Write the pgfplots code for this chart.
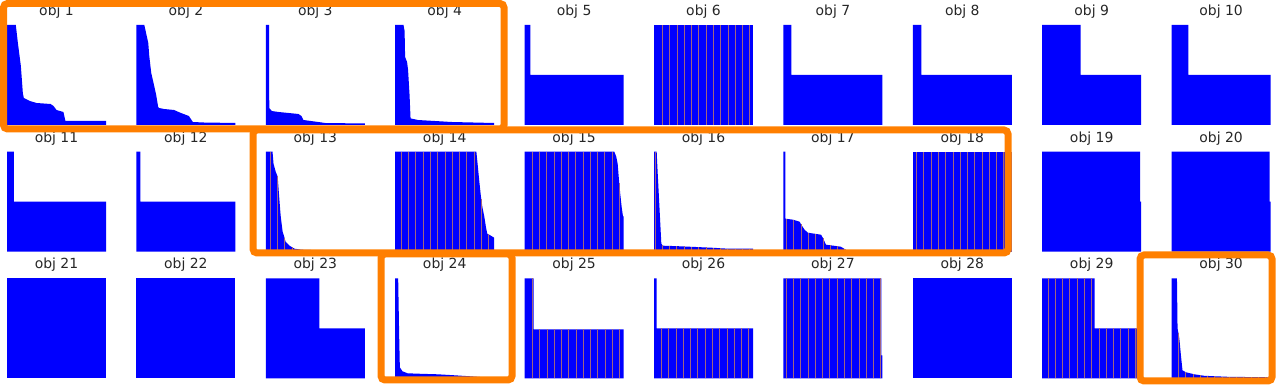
\documentclass[border=0pt]{standalone}
\usepackage{fontspec}
\setmainfont{DejaVu Sans}
\usepackage{pgfplots}
\pgfplotsset{compat=1.18}
\definecolor{frame}{RGB}{255,127,0}
\definecolor{edge}{RGB}{160,100,125}
\definecolor{txt}{RGB}{38,38,38}
\pgfplotsset{
  every axis title/.style={at={(0.5,1)}, anchor=base, yshift=9.5bp, inner sep=0pt,
      font=\fontsize{14}{15}\selectfont, text=txt},
  obj/.style={anchor=south west, width=99bp, height=100bp, scale only axis,
    hide axis, xmin=0, xmax=100, ymin=0, ymax=100, clip=false},
  bars/.style={fill=blue, draw=none},
  edges/.style={ycomb, draw=edge, line width=0.45bp},
}
\begin{document}
\begin{tikzpicture}
% ---- row 1
\begin{axis}[obj, at={(7bp,260bp)}, title={obj 1}]
\addplot[bars] coordinates {(0,100)(8.9,100)(11,82)(14,59)(16,32)(17,27)(23,24)(30,22)(44,21)(47,19)(50,15)(57,13)(59,4)(100,4)} \closedcycle;
\end{axis}
\begin{axis}[obj, at={(136.4bp,260bp)}, title={obj 2}]
\addplot[bars] coordinates {(0,100)(8,100)(12,82)(13,69)(15,52)(18,39)(20,30)(22,18)(23,17)(28,16)(38,15)(45,12)(53,9)(57,3)(68,2.5)(100,2)} \closedcycle;
\end{axis}
\begin{axis}[obj, at={(265.8bp,260bp)}, title={obj 3}]
\addplot[bars] coordinates {(0,100)(3.3,100)(3.5,17)(6,14)(13,13)(23,12)(33,11)(36,9)(38,5)(53,3)(60,2)(100,1.5)} \closedcycle;
\end{axis}
\begin{axis}[obj, at={(395.2bp,260bp)}, title={obj 4}]
\addplot[bars] coordinates {(0,100)(8.4,100)(9.5,94)(10,68)(12,63)(13,55)(14.5,30)(15.5,6.6)(23,5)(40,4)(57,3)(100,2)} \closedcycle;
\end{axis}
\begin{axis}[obj, at={(524.6bp,260bp)}, title={obj 5}]
\addplot[bars] coordinates {(0,100)(5.7,100)(5.7,50)(100,50)} \closedcycle;
\end{axis}
\begin{axis}[obj, at={(654bp,260bp)}, title={obj 6}]
\addplot[bars] coordinates {(0,100)(100,100)} \closedcycle;
\addplot[edges] coordinates {(8.4,100)(15.75,100)(23.1,100)(30.45,100)(37.8,100)(45.15,100)(52.5,100)(59.85,100)(67.2,100)(74.55,100)(81.9,100)(89.25,100)(96.6,100)};
\end{axis}
\begin{axis}[obj, at={(783.4bp,260bp)}, title={obj 7}]
\addplot[bars] coordinates {(0,100)(8,100)(8,50)(100,50)} \closedcycle;
\end{axis}
\begin{axis}[obj, at={(912.8bp,260bp)}, title={obj 8}]
\addplot[bars] coordinates {(0,100)(8.7,100)(8.7,50)(100,50)} \closedcycle;
\end{axis}
\begin{axis}[obj, at={(1042.2bp,260bp)}, title={obj 9}]
\addplot[bars] coordinates {(0,100)(38.7,100)(38.7,50)(100,50)} \closedcycle;
\end{axis}
\begin{axis}[obj, at={(1171.6bp,260bp)}, title={obj 10}]
\addplot[bars] coordinates {(0,100)(17,100)(17,50)(100,50)} \closedcycle;
\end{axis}
% ---- row 2
\begin{axis}[obj, at={(7bp,133.3bp)}, title={obj 11}]
\addplot[bars] coordinates {(0,100)(7,100)(7,50)(100,50)} \closedcycle;
\end{axis}
\begin{axis}[obj, at={(136.4bp,133.3bp)}, title={obj 12}]
\addplot[bars] coordinates {(0,100)(4,100)(4,50)(100,50)} \closedcycle;
\end{axis}
\begin{axis}[obj, at={(265.8bp,133.3bp)}, title={obj 13}]
\addplot[bars] coordinates {(0,100)(6.8,100)(7.8,88)(10,80)(12,75)(13.5,55)(15,36)(17,20)(18.6,15)(20,10)(24,6)(29,3)(36,2)(52,1.5)(100,0.5)} \closedcycle;
\addplot[edges] coordinates {(4.4,100)(11.75,76)(19.1,14)(26.45,4.5)(33.8,2.2)(41.15,1.8)(48.5,1.6)(55.85,1.4)(63.2,1.2)(70.55,1)(77.9,0.9)(85.25,0.8)(92.6,0.6)};
\end{axis}
\begin{axis}[obj, at={(395.2bp,133.3bp)}, title={obj 14}]
\addplot[bars] coordinates {(0,100)(82,100)(83,90)(85,70)(86.6,55)(88,45)(90,35)(91.6,25)(93,18)(95,17)(96.6,16)(100,14)} \closedcycle;
\addplot[edges] coordinates {(6,100)(13.35,100)(20.7,100)(28.05,100)(35.4,100)(42.75,100)(50.1,100)(57.45,100)(64.8,100)(72.15,100)(79.5,100)(86.85,53)(94.2,17.5)};
\end{axis}
\begin{axis}[obj, at={(524.6bp,133.3bp)}, title={obj 15}]
\addplot[bars] coordinates {(0,100)(90.6,100)(92.6,95)(94,88)(95.3,72)(96.6,58)(98,45)(99.3,36)(100,35)} \closedcycle;
\addplot[edges] coordinates {(7.4,100)(14.75,100)(22.1,100)(29.45,100)(36.8,100)(44.15,100)(51.5,100)(58.85,100)(66.2,100)(73.55,100)(80.9,100)(88.25,100)(95.6,69)};
\end{axis}
\begin{axis}[obj, at={(654bp,133.3bp)}, title={obj 16}]
\addplot[bars] coordinates {(0,100)(2.7,100)(3.4,85)(4.7,60)(6,35)(7.4,8)(9,6)(24,5.5)(58,4)(75,3)(100,3)} \closedcycle;
\addplot[edges] coordinates {(0.8,100)(8.15,6.5)(15.5,5.8)(22.85,5.5)(30.2,5.3)(37.55,5)(44.9,4.8)(52.25,4.4)(59.6,4)(66.95,3.5)(74.3,3)(81.65,3)(89,3)(96.35,3)};
\end{axis}
\begin{axis}[obj, at={(783.4bp,133.3bp)}, title={obj 17}]
\addplot[bars] coordinates {(0,100)(2,100)(2,33)(9.7,32)(16.4,30)(18,27)(21.4,22)(24.7,19)(38,17)(39.8,14)(43,7)(58,5)(63,2)(65,0.5)(66,0)(100,0)} \closedcycle;
\addplot[edges] coordinates {(3.05,33)(10.4,32)(17.75,27.5)(25.1,19)(32.45,18)(39.8,14)(47.15,6.5)(54.5,5.4)(61.85,2.7)};
\end{axis}
\begin{axis}[obj, at={(912.8bp,133.3bp)}, title={obj 18}]
\addplot[bars] coordinates {(0,100)(100,100)} \closedcycle;
\addplot[edges] coordinates {(3.6,100)(10.95,100)(18.3,100)(25.65,100)(33,100)(40.35,100)(47.7,100)(55.05,100)(62.4,100)(69.75,100)(77.1,100)(84.45,100)(91.8,100)(99.15,100)};
\end{axis}
\begin{axis}[obj, at={(1042.2bp,133.3bp)}, title={obj 19}]
\addplot[bars] coordinates {(0,100)(99,100)(99,50)(100,50)} \closedcycle;
\end{axis}
\begin{axis}[obj, at={(1171.6bp,133.3bp)}, title={obj 20}]
\addplot[bars] coordinates {(0,100)(99,100)(99,50)(100,50)} \closedcycle;
\end{axis}
% ---- row 3
\begin{axis}[obj, at={(7bp,6.7bp)}, title={obj 21}]
\addplot[bars] coordinates {(0,100)(100,100)} \closedcycle;
\end{axis}
\begin{axis}[obj, at={(136.4bp,6.7bp)}, title={obj 22}]
\addplot[bars] coordinates {(0,100)(100,100)} \closedcycle;
\end{axis}
\begin{axis}[obj, at={(265.8bp,6.7bp)}, title={obj 23}]
\addplot[bars] coordinates {(0,100)(54,100)(54,50)(100,50)} \closedcycle;
\end{axis}
\begin{axis}[obj, at={(395.2bp,6.7bp)}, title={obj 24}]
\addplot[bars] coordinates {(0,100)(3,100)(4,43)(4.7,11)(7.4,7)(12.5,5)(26,4.5)(43,4)(60,3)(76,2)(90,1)(100,0.5)} \closedcycle;
\end{axis}
\begin{axis}[obj, at={(524.6bp,6.7bp)}, title={obj 25}]
\addplot[bars] coordinates {(0,100)(9,100)(9,49)(100,49)} \closedcycle;
\addplot[edges] coordinates {(7.7,100)(15.05,49)(22.4,49)(29.75,49)(37.1,49)(44.45,49)(51.8,49)(59.15,49)(66.5,49)(73.85,49)(81.2,49)(88.55,49)(95.9,49)};
\end{axis}
\begin{axis}[obj, at={(654bp,6.7bp)}, title={obj 26}]
\addplot[bars] coordinates {(0,100)(2.7,100)(2.7,50)(100,50)} \closedcycle;
\addplot[edges] coordinates {(7.4,50)(14.75,50)(22.1,50)(29.45,50)(36.8,50)(44.15,50)(51.5,50)(58.85,50)(66.2,50)(73.55,50)(80.9,50)(88.25,50)(95.6,50)};
\end{axis}
\begin{axis}[obj, at={(783.4bp,6.7bp)}, title={obj 27}]
\addplot[bars] coordinates {(0,100)(99,100)(99,23)(100,23)} \closedcycle;
\addplot[edges] coordinates {(2.65,100)(10,100)(17.35,100)(24.7,100)(32.05,100)(39.4,100)(46.75,100)(54.1,100)(61.45,100)(68.8,100)(76.15,100)(83.5,100)(90.85,100)(98.2,100)};
\end{axis}
\begin{axis}[obj, at={(912.8bp,6.7bp)}, title={obj 28}]
\addplot[bars] coordinates {(0,100)(100,100)} \closedcycle;
\end{axis}
\begin{axis}[obj, at={(1042.2bp,6.7bp)}, title={obj 29}]
\addplot[bars] coordinates {(0,100)(53,100)(53,50)(100,50)} \closedcycle;
\addplot[edges] coordinates {(5.7,100)(13.05,100)(20.4,100)(27.75,100)(35.1,100)(42.45,100)(49.8,100)(57.15,50)(64.5,50)(71.85,50)(79.2,50)(86.55,50)(93.9,50)};
\end{axis}
\begin{axis}[obj, at={(1171.6bp,6.7bp)}, title={obj 30}]
\addplot[bars] coordinates {(0,100)(5.4,100)(6,50)(7.8,40)(9.5,22)(11,8)(14.5,6)(23,4)(33,2.5)(57,1.5)(100,1)} \closedcycle;
\addplot[edges] coordinates {(6.65,45)(14,6.5)(21.35,4.3)(28.7,3.2)(36.05,2.3)(43.4,2)(50.75,1.7)(58.1,1.5)(65.45,1.4)(72.8,1.3)(80.15,1.2)(87.5,1.1)(94.85,1)};
\end{axis}
% ---- highlight frames
\begin{scope}[draw=frame, line width=7bp, rounded corners=4bp]
\draw (3.5bp,256bp) rectangle (504bp,381.5bp);
\draw (253bp,132bp) rectangle (1008bp,255bp);
\draw (381bp,5bp) rectangle (512bp,131bp);
\draw (1140bp,4bp) rectangle (1272bp,130bp);
\end{scope}
\pgfresetboundingbox
\useasboundingbox (0,0) rectangle (1277bp,385bp);
\end{tikzpicture}
\end{document}
